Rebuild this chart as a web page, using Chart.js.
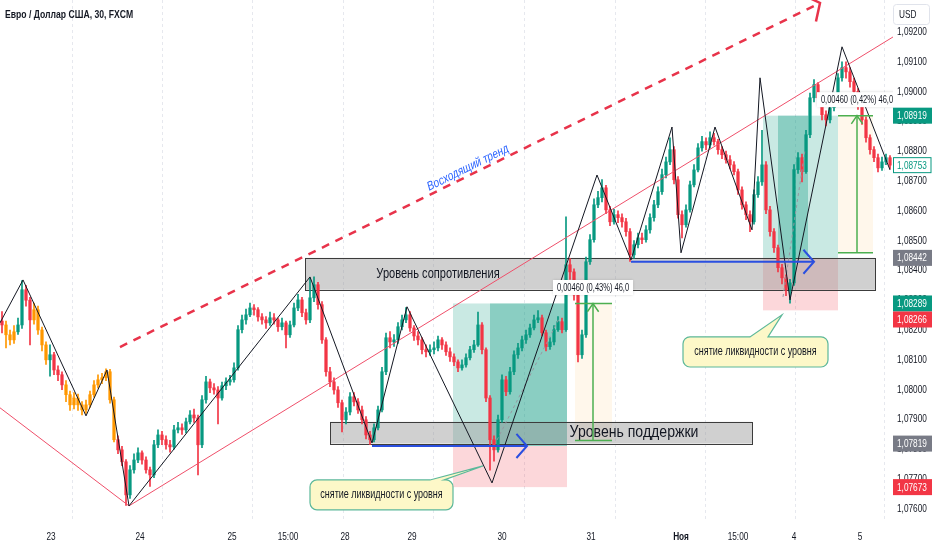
<!DOCTYPE html>
<html>
<head>
<meta charset="utf-8">
<script src="https://cdn.jsdelivr.net/npm/chart.js@4.4.1/dist/chart.umd.min.js"></script>
<style>
html, body { margin: 0; padding: 0; background: #fff; overflow: hidden; }
canvas { display: block; }
</style>
</head>
<body>
<canvas id="chart" width="932" height="550"></canvas>
<script>
// EUR/USD 30m, FXCM - candles, one bar per slot

const firstOpen = 1.08230;

const closes = [
  1.08217,1.08184,1.08167,1.08194,1.08217,1.08335,1.08300,1.08234,1.08268,1.08200,
  1.08150,1.08100,1.08117,1.08066,1.08050,1.08016,1.07983,1.07949,1.07972,1.07949,
  1.07932,1.07949,1.07983,1.08016,1.08033,1.08040,1.08060,1.07966,1.07832,1.07798,
  1.07758,1.07647,1.07731,1.07764,1.07788,1.07764,1.07731,1.07714,1.07815,1.07848,
  1.07832,1.07815,1.07808,1.07865,1.07872,1.07865,1.07892,1.07915,1.07905,1.07815,
  1.07966,1.08026,1.08006,1.07999,1.07972,1.08013,1.08026,1.08033,1.08073,1.08201,
  1.08234,1.08251,1.08274,1.08268,1.08244,1.08234,1.08224,1.08241,1.08234,1.08211,
  1.08224,1.08184,1.08217,1.08274,1.08301,1.08258,1.08234,1.08308,1.08352,1.08285,
  1.08167,1.08060,1.08026,1.07999,1.07956,1.07899,1.07925,1.07976,1.07959,1.07932,
  1.07899,1.07848,1.07832,1.07872,1.07932,1.08060,1.08174,1.08160,1.08167,1.08211,
  1.08234,1.08251,1.08207,1.08180,1.08167,1.08134,1.08127,1.08134,1.08140,1.08167,
  1.08150,1.08127,1.08110,1.08093,1.08073,1.08083,1.08107,1.08134,1.08150,1.08217,
  1.08134,1.07972,1.07832,1.07798,1.07899,1.08033,1.07993,1.08060,1.08117,1.08140,
  1.08167,1.08184,1.08207,1.08234,1.08241,1.08191,1.08144,1.08160,1.08201,1.08228,
  1.08201,1.08419,1.08395,1.08318,1.08117,1.08184,1.08429,1.08503,1.08620,1.08644,
  1.08677,1.08603,1.08563,1.08587,1.08577,1.08563,1.08530,1.08452,1.08486,1.08509,
  1.08503,1.08536,1.08577,1.08620,1.08664,1.08721,1.08764,1.08805,1.08704,1.08587,
  1.08553,1.08603,1.08687,1.08737,1.08811,1.08832,1.08821,1.08845,1.08832,1.08805,
  1.08788,1.08771,1.08754,1.08731,1.08670,1.08620,1.08587,1.08563,1.08654,1.08697,
  1.08754,1.08603,1.08530,1.08476,1.08409,1.08375,1.08335,1.08358,1.08738,1.08778,
  1.08731,1.08855,1.08979,1.09023,1.08979,1.08922,1.08905,1.08946,1.08979,1.09046,
  1.09080,1.09066,1.09033,1.09000,1.08956,1.08905,1.08845,1.08805,1.08778,1.08744,
  1.08764,1.08778,1.08753
];

const highs = [
  1.08262,1.08230,1.08200,1.08215,1.08240,1.08366,1.08350,1.08310,1.08290,1.08280,
  1.08210,1.08160,1.08150,1.08125,1.08080,1.08060,1.08030,1.07995,1.07990,1.07985,
  1.07960,1.07965,1.07995,1.08030,1.08050,1.08055,1.08070,1.08068,1.07975,1.07845,
  1.07810,1.07765,1.07745,1.07785,1.07805,1.07795,1.07775,1.07740,1.07830,1.07865,
  1.07860,1.07845,1.07830,1.07880,1.07890,1.07885,1.07905,1.07930,1.07935,1.07915,
  1.07980,1.08045,1.08035,1.08020,1.08010,1.08025,1.08040,1.08048,1.08090,1.08215,
  1.08250,1.08270,1.08290,1.08285,1.08275,1.08255,1.08245,1.08260,1.08255,1.08240,
  1.08240,1.08230,1.08230,1.08290,1.08320,1.08310,1.08270,1.08375,1.08378,1.08360,
  1.08295,1.08175,1.08075,1.08040,1.08010,1.07965,1.07940,1.07990,1.07990,1.07970,
  1.07945,1.07910,1.07860,1.07885,1.07945,1.08075,1.08190,1.08195,1.08185,1.08225,
  1.08250,1.08275,1.08262,1.08215,1.08195,1.08175,1.08150,1.08150,1.08160,1.08180,
  1.08175,1.08160,1.08140,1.08120,1.08100,1.08100,1.08120,1.08145,1.08165,1.08260,
  1.08225,1.08140,1.07980,1.07845,1.07915,1.08050,1.08045,1.08075,1.08130,1.08155,
  1.08180,1.08200,1.08220,1.08250,1.08265,1.08250,1.08200,1.08175,1.08215,1.08245,
  1.08240,1.08580,1.08440,1.08405,1.08325,1.08200,1.08445,1.08520,1.08640,1.08665,
  1.08705,1.08685,1.08615,1.08605,1.08600,1.08590,1.08575,1.08540,1.08500,1.08525,
  1.08525,1.08550,1.08590,1.08635,1.08680,1.08740,1.08780,1.08845,1.08815,1.08715,
  1.08600,1.08620,1.08700,1.08755,1.08825,1.08850,1.08845,1.08865,1.08860,1.08840,
  1.08815,1.08800,1.08785,1.08765,1.08740,1.08680,1.08630,1.08600,1.08670,1.08715,
  1.08870,1.08765,1.08615,1.08540,1.08485,1.08420,1.08385,1.08370,1.08755,1.08795,
  1.08790,1.08870,1.08995,1.09040,1.09030,1.08985,1.08935,1.08960,1.08995,1.09060,
  1.09100,1.09100,1.09080,1.09045,1.09010,1.08965,1.08915,1.08855,1.08815,1.08790,
  1.08780,1.08790,1.08785
];

const lows = [
  1.08190,1.08140,1.08150,1.08155,1.08185,1.08205,1.08280,1.08150,1.08220,1.08185,
  1.08130,1.08085,1.08045,1.08050,1.08030,1.08000,1.07960,1.07930,1.07935,1.07930,
  1.07915,1.07920,1.07940,1.07975,1.08005,1.08020,1.08030,1.07955,1.07825,1.07785,
  1.07745,1.07612,1.07635,1.07720,1.07755,1.07750,1.07720,1.07675,1.07705,1.07805,
  1.07815,1.07800,1.07790,1.07800,1.07855,1.07850,1.07855,1.07885,1.07890,1.07714,
  1.07805,1.07955,1.07990,1.07985,1.07885,1.07965,1.08000,1.08015,1.08025,1.08065,
  1.08190,1.08220,1.08245,1.08250,1.08230,1.08220,1.08205,1.08215,1.08220,1.08195,
  1.08200,1.08140,1.08175,1.08210,1.08265,1.08245,1.08220,1.08225,1.08295,1.08270,
  1.08155,1.08045,1.08010,1.07985,1.07940,1.07858,1.07885,1.07915,1.07945,1.07920,
  1.07885,1.07835,1.07815,1.07825,1.07865,1.07925,1.08050,1.08140,1.08145,1.08155,
  1.08200,1.08225,1.08195,1.08165,1.08150,1.08120,1.08110,1.08115,1.08120,1.08130,
  1.08135,1.08115,1.08095,1.08080,1.08060,1.08065,1.08075,1.08100,1.08125,1.08145,
  1.08120,1.07960,1.07730,1.07760,1.07790,1.07890,1.07980,1.07985,1.08050,1.08105,
  1.08130,1.08155,1.08175,1.08200,1.08225,1.08180,1.08130,1.08135,1.08150,1.08195,
  1.08190,1.08195,1.08370,1.08300,1.08093,1.08105,1.08175,1.08420,1.08495,1.08610,
  1.08630,1.08590,1.08550,1.08555,1.08560,1.08545,1.08515,1.08430,1.08440,1.08475,
  1.08490,1.08495,1.08525,1.08565,1.08610,1.08655,1.08710,1.08755,1.08690,1.08575,
  1.08509,1.08545,1.08595,1.08680,1.08730,1.08800,1.08805,1.08810,1.08820,1.08790,
  1.08775,1.08760,1.08740,1.08720,1.08655,1.08605,1.08570,1.08530,1.08555,1.08645,
  1.08685,1.08590,1.08515,1.08460,1.08395,1.08355,1.08315,1.08290,1.08350,1.08725,
  1.08697,1.08725,1.08845,1.08965,1.08960,1.08905,1.08885,1.08895,1.08935,1.08970,
  1.09035,1.09045,1.09015,1.08985,1.08940,1.08890,1.08830,1.08790,1.08765,1.08730,
  1.08735,1.08755,1.08740
];

// time axis: label text and the bar slot it sits under
const timeLabels = ['23', '24', '25', '15:00', '28', '29', '30', '31', 'Ноя', '15:00', '4', '5'];
const timeSlots  = [12.25, 34.5, 57.5, 71.5, 85.75, 102.5, 125, 147.25, 169.75, 184, 198, 214.5];
const gridSlots  = [17.5, 40, 62.5, 85.25, 107.75, 130.5, 153.25, 175.75, 198.25, 220.5];
const priceTicks = [1.076,1.077,1.078,1.079,1.080,1.081,1.082,1.083,1.084,1.085,1.086,1.087,1.088,1.089,1.090,1.091,1.092];

// price tags on the right axis
const tagPrices = [1.08919, 1.08753, 1.08442, 1.08289, 1.08266, 1.07819, 1.07673];
const tagKinds  = ['up', 'last', 'box', 'up', 'down', 'box', 'down'];

// drawings, anchored on bar slot / price
const zigSlots  = [-0.5, 5.25, 21, 26.25, 31.75, 77, 92.5, 101.25, 122.5, 148.75, 157.25, 167.5, 169.75, 178.25, 187.5, 189.5, 197, 210, 222];
const zigPrices = [1.08224,1.08368,1.07912,1.08066,1.07610,1.08378,1.07821,1.08278,1.07687,1.08720,1.08435,1.08881,1.08459,1.08881,1.08536,1.09046,1.08301,1.09150,1.08737];
const channelSlots  = [-0.5, 31.75, 222.75];
const channelPrices = [1.07939, 1.07610, 1.09183];
const trendSlots  = [29.5, 204.5];
const trendPrices = [1.08143, 1.09297];

const resistance = { from: 75.75, to: 218.25, top: 1.08442, bottom: 1.08335, labelAt: 109, text: 'Уровень сопротивления' };
const support    = { from: 82, to: 187.5, top: 1.07892, bottom: 1.07819, labelAt: 158, text: 'Уровень поддержки' };

const positions = [
  { from: 112.75, to: 141.25, darkFrom: 122, darkTo: 141.25, target: 1.08289, entry: 1.07811, stop: 1.07673 },
  { from: 190.25, to: 209, darkFrom: 194, darkTo: 201.5, target: 1.08919, entry: 1.08442, stop: 1.08266 }
];
const measures = [
  { from: 143.25, to: 152.5, mid: 147.75, top: 1.08289, bottom: 1.07829, text: '0,00460 (0,43%) 46,0' },
  { from: 209, to: 217.75, mid: 213.75, top: 1.08919, bottom: 1.08459, text: '0,00460 (0,42%) 46,0' }
];
const blueArrows = [
  { from: 92.5, to: 131.25, price: 1.07811 },
  { from: 157.25, to: 203, price: 1.08429 }
];
const callouts = [
  { from: 77, to: 112.75, top: 1.07697, bottom: 1.07597, baseFrom: 107, baseTo: 110.5, tipSlot: 120.25, tipPrice: 1.07744 },
  { from: 170.25, to: 206.5, top: 1.08177, bottom: 1.08076, baseFrom: 187, baseTo: 191.5, tipSlot: 195, tipPrice: 1.08251 }
];
const calloutText = 'снятие ликвидности с уровня';
const pathHints = [
  [[123.75, 1.07831], [139.5, 1.08244]],
  [[195.25, 1.08311], [200.75, 1.08804]]
];
const trendLabel = { slot: 116.5, price: 1.08744, text: 'Восходящий тренд' };

// ---- looks (the picture is squeezed sideways, so text is drawn narrowed)
const FONT = "'Liberation Sans', Arial, sans-serif";
const SX = 0.75;
const UP = '#089981', DOWN = '#f23645', ORANGE = '#ff9800', INK = '#131722';
const orangeSpans = [[1, 3], [8, 11], [16, 28]];

const fmt = v => v.toFixed(5).replace('.', ',');
const opens = closes.map((c, i) => i === 0 ? firstOpen : closes[i - 1]);

function candleColor(i) {
  for (const [a, b] of orangeSpans) if (i >= a && i <= b) return ORANGE;
  return closes[i] >= opens[i] ? UP : DOWN;
}
const colors = closes.map((c, i) => candleColor(i));

const wickData = closes.map((c, i) => ({ x: i, y: [Math.min(lows[i], opens[i], c), Math.max(highs[i], opens[i], c)] }));
const bodyData = closes.map((c, i) => ({ x: i, y: [Math.min(opens[i], c), Math.max(opens[i], c)] }));

function line(ctx, pts) {
  ctx.beginPath();
  pts.forEach((p, k) => k ? ctx.lineTo(p[0], p[1]) : ctx.moveTo(p[0], p[1]));
  ctx.stroke();
}

function chevron(ctx, tx, ty, ang, len, spread) {
  ctx.beginPath();
  ctx.moveTo(tx + Math.cos(ang + Math.PI - spread) * len, ty + Math.sin(ang + Math.PI - spread) * len);
  ctx.lineTo(tx, ty);
  ctx.lineTo(tx + Math.cos(ang + Math.PI + spread) * len, ty + Math.sin(ang + Math.PI + spread) * len);
  ctx.stroke();
}

// narrowed text
function text(ctx, s, x, y, size, align, color, weight, sx) {
  ctx.save();
  ctx.translate(x, y);
  ctx.scale(sx || SX, 1);
  ctx.font = `${weight || 'normal'} ${size}px ${FONT}`;
  ctx.fillStyle = color || INK;
  ctx.textAlign = align || 'left';
  ctx.textBaseline = 'middle';
  ctx.fillText(s, 0, 0);
  ctx.restore();
}
function textWidth(ctx, s, size) {
  ctx.save();
  ctx.font = `${size}px ${FONT}`;
  const w = ctx.measureText(s).width * SX;
  ctx.restore();
  return w;
}

function calloutPath(ctx, x1, y1, x2, y2, b1, b2, tx, ty, r) {
  ctx.beginPath();
  ctx.moveTo(x1 + r, y1);
  ctx.lineTo(b1, y1); ctx.lineTo(tx, ty); ctx.lineTo(b2, y1);
  ctx.lineTo(x2 - r, y1); ctx.arcTo(x2, y1, x2, y1 + r, r);
  ctx.lineTo(x2, y2 - r); ctx.arcTo(x2, y2, x2 - r, y2, r);
  ctx.lineTo(x1 + r, y2); ctx.arcTo(x1, y2, x1, y2 - r, r);
  ctx.lineTo(x1, y1 + r); ctx.arcTo(x1, y1, x1 + r, y1, r);
  ctx.closePath();
}

const drawings = {
  id: 'drawings',
  beforeDatasetsDraw(chart) {
    const ctx = chart.ctx, a = chart.chartArea;
    const X = v => chart.scales.x.getPixelForValue(v);
    const Y = p => chart.scales.y.getPixelForValue(p);
    ctx.save();
    ctx.beginPath(); ctx.rect(a.left, a.top, a.right - a.left, a.bottom - a.top); ctx.clip();

    // vertical grid
    ctx.strokeStyle = '#e6e8ee'; ctx.lineWidth = 1; ctx.setLineDash([3, 3]);
    gridSlots.forEach(g => { const x = Math.round(X(g)) + 0.5; line(ctx, [[x, a.top], [x, a.bottom]]); });
    ctx.setLineDash([]);

    // long positions
    positions.forEach(p => {
      ctx.fillStyle = 'rgba(8,153,129,0.22)';
      ctx.fillRect(X(p.from), Y(p.target), X(p.to) - X(p.from), Y(p.entry) - Y(p.target));
      ctx.fillStyle = 'rgba(8,153,129,0.33)';
      ctx.fillRect(X(p.darkFrom), Y(p.target), X(p.darkTo) - X(p.darkFrom), Y(p.entry) - Y(p.target));
      ctx.fillStyle = 'rgba(242,54,69,0.2)';
      ctx.fillRect(X(p.from), Y(p.entry), X(p.to) - X(p.from), Y(p.stop) - Y(p.entry));
    });

    // measure backgrounds
    measures.forEach(m => {
      ctx.fillStyle = 'rgba(255,236,204,0.4)';
      ctx.fillRect(X(m.from), Y(m.top), X(m.to) - X(m.from), Y(m.bottom) - Y(m.top));
    });

    // level boxes
    [resistance, support].forEach(b => {
      const x1 = X(b.from), x2 = X(b.to), y1 = Y(b.top), y2 = Y(b.bottom);
      ctx.fillStyle = 'rgba(150,150,150,0.45)';
      ctx.fillRect(x1, y1, x2 - x1, y2 - y1);
      ctx.strokeStyle = '#3c3c3c'; ctx.lineWidth = 1;
      ctx.strokeRect(Math.round(x1) + 0.5, Math.round(y1) + 0.5, Math.round(x2 - x1), Math.round(y2 - y1));
    });
    ctx.restore();
  },
  afterDatasetsDraw(chart) {
    const ctx = chart.ctx, a = chart.chartArea;
    const X = v => chart.scales.x.getPixelForValue(v);
    const Y = p => chart.scales.y.getPixelForValue(p);
    ctx.save();
    ctx.beginPath(); ctx.rect(a.left, a.top, a.right - a.left, a.bottom - a.top); ctx.clip();

    // thin dashed path hints inside positions
    ctx.strokeStyle = '#9598a1'; ctx.lineWidth = 1; ctx.setLineDash([3, 3]);
    pathHints.forEach(h => line(ctx, h.map(q => [X(q[0]), Y(q[1])])));
    ctx.setLineDash([]);

    // red channel V
    ctx.strokeStyle = '#ef4f6a'; ctx.lineWidth = 1;
    line(ctx, channelSlots.map((s, k) => [X(s), Y(channelPrices[k])]));

    // zigzag
    ctx.strokeStyle = INK; ctx.lineWidth = 1;
    line(ctx, zigSlots.map((s, k) => [X(s), Y(zigPrices[k])]));

    // rising trend, dashed with arrow
    const t1 = [X(trendSlots[0]), Y(trendPrices[0])], t2 = [X(trendSlots[1]), Y(trendPrices[1])];
    const tang = Math.atan2(t2[1] - t1[1], t2[0] - t1[0]);
    ctx.strokeStyle = '#e8334a'; ctx.lineWidth = 2.5; ctx.setLineDash([8, 7]);
    line(ctx, [t1, t2]);
    ctx.setLineDash([]);
    chevron(ctx, t2[0], t2[1], tang, 19, 0.9);

    ctx.save();
    ctx.translate(X(trendLabel.slot), Y(trendLabel.price));
    ctx.scale(SX, 1);
    ctx.rotate(Math.atan(Math.tan(tang) * SX));
    ctx.fillStyle = '#2962ff'; ctx.font = `13px ${FONT}`;
    ctx.textAlign = 'center'; ctx.textBaseline = 'middle';
    ctx.fillText(trendLabel.text, 0, 0);
    ctx.restore();

    // level labels
    text(ctx, resistance.text, X(resistance.labelAt), (Y(resistance.top) + Y(resistance.bottom)) / 2, 14, 'center', INK, 'normal', 0.79);
    text(ctx, support.text, X(support.labelAt), (Y(support.top) + Y(support.bottom)) / 2, 16, 'center', INK, 'normal', 0.88);

    // blue arrows
    ctx.strokeStyle = '#2a4fe0'; ctx.lineWidth = 2;
    blueArrows.forEach(b => {
      const y = Y(b.price);
      line(ctx, [[X(b.from), y], [X(b.to), y]]);
      chevron(ctx, X(b.to), y, 0, 16, 0.85);
    });

    // measures
    measures.forEach(m => {
      const x1 = X(m.from), x2 = X(m.to), xm = X(m.mid), y1 = Y(m.top), y2 = Y(m.bottom);
      ctx.strokeStyle = '#4caf50'; ctx.lineWidth = 1.5;
      line(ctx, [[x1, y1], [x2, y1]]);
      line(ctx, [[x1, y2], [x2, y2]]);
      line(ctx, [[xm, y2], [xm, y1]]);
      chevron(ctx, xm, y1, -Math.PI / 2, 10, 0.6);

      const w = textWidth(ctx, m.text, 10) + 8, h = 15, ly = y1 - 16;
      ctx.save();
      ctx.shadowColor = 'rgba(0,0,0,0.25)'; ctx.shadowBlur = 3;
      ctx.fillStyle = '#fff';
      ctx.fillRect(xm - w / 2, ly - h / 2, w, h);
      ctx.restore();
      text(ctx, m.text, xm, ly + 0.5, 10, 'center');
    });

    // callouts
    callouts.forEach(c => {
      calloutPath(ctx, X(c.from), Y(c.top), X(c.to), Y(c.bottom), X(c.baseFrom), X(c.baseTo), X(c.tipSlot), Y(c.tipPrice), 7);
      ctx.fillStyle = '#fdf8c8'; ctx.fill();
      ctx.strokeStyle = '#5cb89a'; ctx.lineWidth = 1.2; ctx.stroke();
      text(ctx, calloutText, (X(c.from) + X(c.to)) / 2, (Y(c.top) + Y(c.bottom)) / 2, 12, 'center');
    });
    ctx.restore();
  },
  afterDraw(chart) {
    const ctx = chart.ctx, a = chart.chartArea;
    const xs = chart.scales.x, ys = chart.scales.y;
    ctx.save();

    // title
    text(ctx, 'Евро / Доллар США, 30, FXCM', 5, 15, 11.5, 'left', INK, 'bold');

    // axis labels from the scales
    priceTicks.forEach(v => text(ctx, fmt(v), a.right + 4, ys.getPixelForValue(v), 11, 'left'));
    timeSlots.forEach((s, k) => text(ctx, timeLabels[k], xs.getPixelForValue(s), 537, 11, 'center', INK, k === 8 ? 'bold' : 'normal'));

    // currency box
    ctx.strokeStyle = '#e0e3eb'; ctx.lineWidth = 1;
    ctx.beginPath(); ctx.roundRect(a.right + 0.5, 4.5, 36, 20, 3); ctx.stroke();
    text(ctx, 'USD', a.right + 6, 15, 11, 'left');

    // price tags, pushed apart when they collide
    const h = 16;
    const items = tagPrices.map((p, k) => ({ p, kind: tagKinds[k], y: ys.getPixelForValue(p) })).sort((u, v) => u.y - v.y);
    for (let k = 1; k < items.length; k++) {
      if (items[k].y < items[k - 1].y + h) items[k].y = items[k - 1].y + h;
    }
    items.forEach(t => {
      const bg = t.kind === 'up' ? UP : t.kind === 'down' ? DOWN : t.kind === 'box' ? '#787b86' : '#fff';
      ctx.fillStyle = bg;
      ctx.fillRect(a.right, t.y - h / 2, chart.width - a.right, h);
      if (t.kind === 'last') {
        ctx.strokeStyle = UP; ctx.lineWidth = 1;
        ctx.strokeRect(a.right + 0.5, t.y - h / 2 + 0.5, chart.width - a.right - 1.5, h - 1);
      }
      text(ctx, fmt(t.p), a.right + 4, t.y + 0.5, 11, 'left', t.kind === 'last' ? UP : '#fff');
    });
    ctx.restore();
  }
};

new Chart(document.getElementById('chart'), {
  type: 'bar',
  data: {
    datasets: [
      { data: wickData, backgroundColor: colors, barThickness: 1, grouped: false, borderWidth: 0 },
      { data: bodyData, backgroundColor: colors, barThickness: 2.6, grouped: false, borderWidth: 0, minBarLength: 1 }
    ]
  },
  options: {
    responsive: false,
    animation: false,
    events: [],
    layout: { padding: 0 },
    plugins: { legend: { display: false }, tooltip: { enabled: false } },
    scales: {
      x: {
        type: 'linear', min: -0.5, max: 222.75, offset: false,
        grid: { display: false, drawTicks: false }, border: { display: false },
        afterFit: s => { s.height = 28; },
        ticks: { display: false }
      },
      y: {
        position: 'right', min: 1.07556, max: 1.09307,
        grid: { display: false, drawTicks: false }, border: { display: false },
        afterFit: s => { s.width = 39; },
        ticks: { display: false }
      }
    }
  },
  plugins: [drawings]
});
</script>
</body>
</html>
